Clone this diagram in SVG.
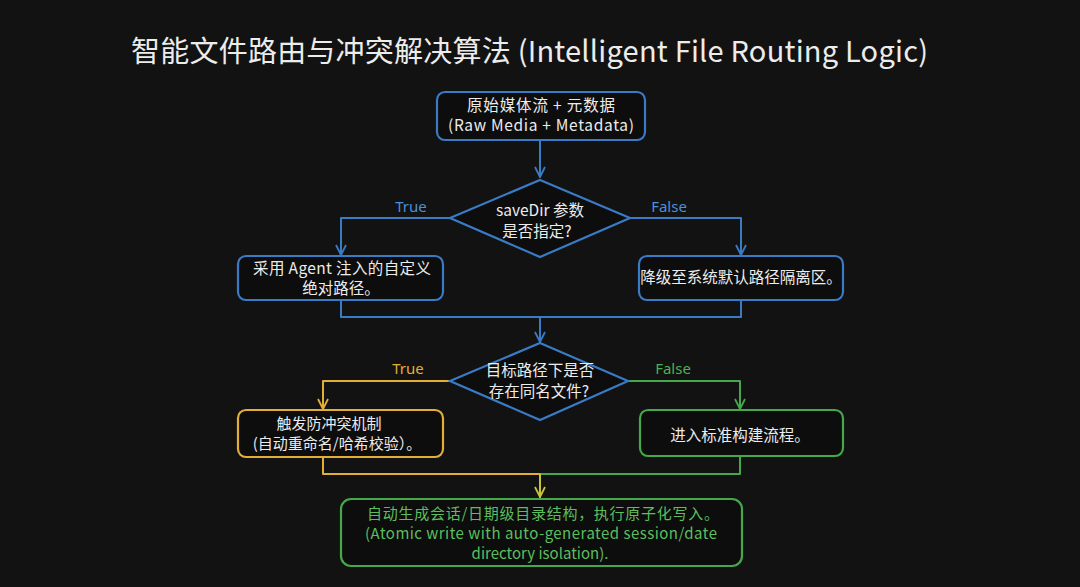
<svg xmlns="http://www.w3.org/2000/svg" width="1080" height="587" viewBox="0 0 1080 587">
<defs>
<style>
.t{font-family:"Noto Sans CJK SC","Noto Sans",sans-serif;fill:#ececec;text-anchor:middle}
.title{font-size:29px;text-anchor:start}
.n{font-size:15.5px}
.s{font-size:15px}
.lb{font-size:15px;text-anchor:middle;font-family:"Noto Sans","Noto Sans CJK SC",sans-serif}
.box{fill:#0d0d0d;stroke-width:2.2}
.blue{stroke:#3a7bc6}
.yel{stroke:#e3ae35}
.grn{stroke:#45a84a}
.ln{fill:none;stroke-width:2;stroke-linejoin:round;stroke-linecap:round}
</style>
<marker id="ab" viewBox="0 0 12 12" refX="11" refY="6" markerWidth="12" markerHeight="12" markerUnits="userSpaceOnUse" orient="auto"><path d="M1,1 L11,6 L1,11" fill="none" stroke="#3a7bc6" stroke-width="1.8"/></marker>
<marker id="ay" viewBox="0 0 12 12" refX="11" refY="6" markerWidth="12" markerHeight="12" markerUnits="userSpaceOnUse" orient="auto"><path d="M1,1 L11,6 L1,11" fill="none" stroke="#e3ae35" stroke-width="1.8"/></marker>
<marker id="ag" viewBox="0 0 12 12" refX="11" refY="6" markerWidth="12" markerHeight="12" markerUnits="userSpaceOnUse" orient="auto"><path d="M1,1 L11,6 L1,11" fill="none" stroke="#45a84a" stroke-width="1.8"/></marker>
<marker id="ayg" viewBox="0 0 12 12" refX="11" refY="6" markerWidth="12" markerHeight="12" markerUnits="userSpaceOnUse" orient="auto"><path d="M1,1 L11,6 L1,11" fill="none" stroke="#c9c13a" stroke-width="1.8"/></marker>
</defs>
<rect width="1080" height="587" fill="#121212"/>
<text class="t title" x="131" y="62" textLength="797" lengthAdjust="spacing">智能文件路由与冲突解决算法 (Intelligent File Routing Logic)</text>

<g id="connectors">
<path class="ln blue" d="M540,140 L540,177" marker-end="url(#ab)"/>
<path class="ln blue" d="M450,218 L341,218 L341,255" marker-end="url(#ab)"/>
<path class="ln blue" d="M630,218 L741,218 L741,255" marker-end="url(#ab)"/>
<path class="ln blue" d="M341,300 L341,317 L741,317 L741,300"/>
<path class="ln blue" d="M540,317 L540,342" marker-end="url(#ab)"/>
<path class="ln yel" d="M450,381 L323,381 L323,409" marker-end="url(#ay)"/>
<path class="ln grn" d="M628,381 L740,381 L740,409" marker-end="url(#ag)"/>
<path class="ln yel" d="M323,457 L323,474 L540,474"/>
<path class="ln grn" d="M740,456 L740,474 L540,474"/>
<path class="ln" stroke="#c9c13a" d="M540,474 L540,497" marker-end="url(#ayg)"/>
<text class="lb" x="411" y="212" fill="#4f8fd6">True</text>
<text class="lb" x="669" y="212" fill="#4f8fd6">False</text>
<text class="lb" x="408" y="374" fill="#e3ae35">True</text>
<text class="lb" x="673" y="374" fill="#4fb053">False</text>
</g>

<g id="n1">
<rect class="box blue" x="437" y="92" width="208" height="48" rx="8"/>
<text class="t n" x="541" y="111" textLength="148" lengthAdjust="spacing">原始媒体流 + 元数据</text>
<text class="t n" x="541" y="131" textLength="186" lengthAdjust="spacing">(Raw Media + Metadata)</text>
</g>
<g id="d1">
<polygon class="box blue" points="540,180 630,218 540,257 450,218"/>
<text class="t n" x="540" y="216">saveDir 参数</text>
<text class="t n" x="537" y="237">是否指定?</text>
</g>
<g id="n2">
<rect class="box blue" x="238" y="256" width="205" height="44" rx="8"/>
<text class="t n" x="342" y="274" textLength="178" lengthAdjust="spacing">采用 Agent 注入的自定义</text>
<text class="t n" x="341" y="294">绝对路径。</text>
</g>
<g id="n3">
<rect class="box blue" x="639" y="256" width="204" height="44" rx="8"/>
<text class="t n" x="741" y="283">降级至系统默认路径隔离区。</text>
</g>
<g id="d2">
<polygon class="box blue" points="540,343 628,381 540,420 450,381"/>
<text class="t n" x="540" y="376">目标路径下是否</text>
<text class="t n" x="539" y="397">存在同名文件?</text>
</g>
<g id="n4">
<rect class="box yel" x="238" y="410" width="205" height="47" rx="8"/>
<text class="t s" x="329" y="429">触发防冲突机制</text>
<text class="t s" x="337" y="449">(自动重命名/哈希校验）。</text>
</g>
<g id="n5">
<rect class="box grn" x="640" y="410" width="203" height="46" rx="8"/>
<text class="t n" x="740" y="441">进入标准构建流程。</text>
</g>
<g id="n6">
<rect class="box grn" x="341" y="499" width="401" height="67" rx="10"/>
<text class="t s" x="543" y="519" style="fill:#5cbf5e" textLength="352" lengthAdjust="spacing">自动生成会话/日期级目录结构，执行原子化写入。</text>
<text class="t s" x="541" y="539" style="fill:#5cbf5e" textLength="352" lengthAdjust="spacing">(Atomic write with auto-generated session/date</text>
<text class="t s" x="540" y="559" style="fill:#5cbf5e">directory isolation).</text>
</g>
</svg>
